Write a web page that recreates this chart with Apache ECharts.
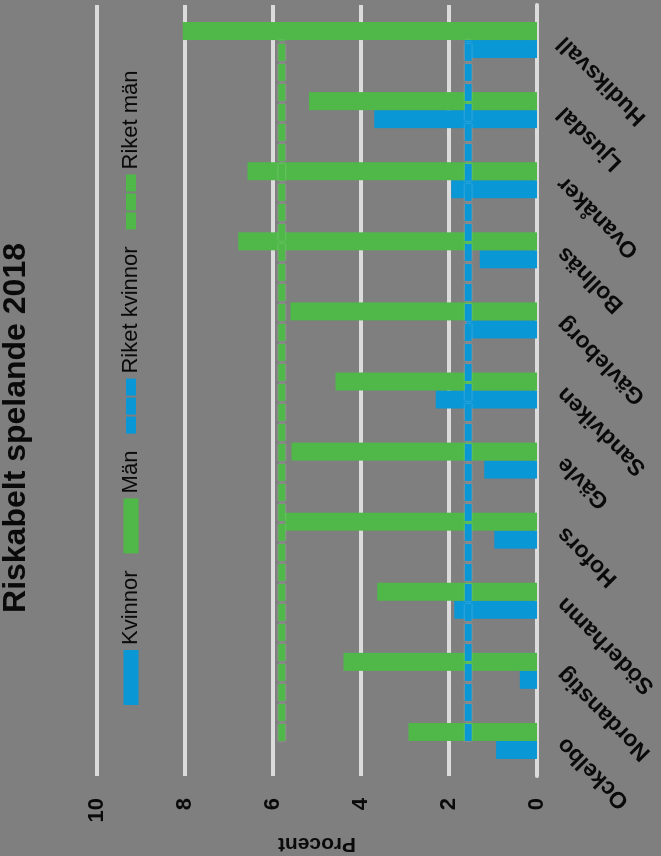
<!DOCTYPE html>
<html>
<head>
<meta charset="utf-8">
<script src="https://cdn.jsdelivr.net/npm/echarts@6/dist/echarts.min.js"></script>
<style>
  html, body { margin: 0; padding: 0; background: #7f7f7f; width: 661px; height: 856px; overflow: hidden; }
  #chart { position: absolute; left: 0; top: 0; width: 856px; height: 661px;
           transform-origin: 0 0; transform: translate(0px, 856px) rotate(-90deg); }
</style>
</head>
<body>
<div id="chart"></div>
<script>
const categories = ['Ockelbo', 'Nordanstig', 'Söderhamn', 'Hofors', 'Gävle', 'Sandviken', 'Gävleborg', 'Bollnäs', 'Ovanåker', 'Ljusdal', 'Hudiksvall'];
const kvinnor = [0.93, 0.39, 1.88, 0.97, 1.20, 2.30, 1.60, 1.30, 1.95, 3.70, 1.64];
const man = [2.92, 4.40, 3.63, 5.73, 5.58, 4.58, 5.60, 6.79, 6.58, 5.18, 8.05];
const riketKvinnor = [1.56, 1.56, 1.56, 1.56, 1.56, 1.56, 1.56, 1.56, 1.56, 1.56, 1.56];
const riketMan = [5.80, 5.80, 5.80, 5.80, 5.80, 5.80, 5.80, 5.80, 5.80, 5.80, 5.80];
const valueTicks = { min: 0, max: 10, interval: 2 };

const BLUE = '#0a97d6';
const GREEN = '#4fb848';
const FONT = 'Liberation Sans, Arial, sans-serif';
const DASH_ICON = 'path://M0,0h17v10h-17z M19,0h17v10h-17z M38,0h17v10h-17z';

const chart = echarts.init(document.getElementById('chart'), null, { renderer: 'canvas' });
chart.setOption({
  backgroundColor: '#7f7f7f',
  animation: false,
  textStyle: { fontFamily: FONT },
  title: {
    text: 'Riskabelt spelande 2018',
    left: 'center',
    top: -5,
    textStyle: { fontSize: 32, fontWeight: 'bold', color: '#0a0a0a', fontFamily: FONT }
  },
  legend: {
    left: 146,
    top: 115,
    itemWidth: 55,
    itemHeight: 15,
    itemGap: 17,
    textStyle: { fontSize: 22, color: '#0a0a0a', fontFamily: FONT },
    data: [
      { name: 'Kvinnor', icon: 'rect' },
      { name: 'Män', icon: 'rect' },
      { name: 'Riket kvinnor', icon: DASH_ICON, itemStyle: { color: BLUE, borderWidth: 0 } },
      { name: 'Riket män', icon: DASH_ICON, itemStyle: { color: GREEN, borderWidth: 0 } }
    ]
  },
  grid: { left: 80, right: 5, top: 97, bottom: 124, containLabel: false, outerBoundsMode: 'none' },
  xAxis: {
    type: 'category',
    data: categories,
    axisTick: { show: false },
    axisLine: { lineStyle: { color: '#dcdcdc', width: 4 } },
    axisLabel: { rotate: 45, margin: 24, fontSize: 23, fontWeight: 'bold', color: '#0a0a0a', fontFamily: FONT }
  },
  yAxis: {
    type: 'value',
    min: valueTicks.min,
    max: valueTicks.max,
    interval: valueTicks.interval,
    name: 'Procent',
    nameLocation: 'middle',
    nameRotate: 90,
    nameGap: 57,
    nameTextStyle: { fontSize: 21, fontWeight: 'bold', color: '#0a0a0a', fontFamily: FONT },
    axisLine: { show: false },
    axisTick: { show: false },
    axisLabel: { margin: 22, fontSize: 22, fontWeight: 'bold', color: '#0a0a0a', fontFamily: FONT },
    splitLine: { lineStyle: { color: '#dcdcdc', width: 4 } }
  },
  series: [
    { name: 'Kvinnor', type: 'bar', data: kvinnor, barWidth: 18, barGap: '0%', itemStyle: { color: BLUE } },
    { name: 'Män', type: 'bar', data: man, barWidth: 18, barGap: '0%', itemStyle: { color: GREEN } },
    { name: 'Riket kvinnor', type: 'line', data: riketKvinnor, symbol: 'none', itemStyle: { color: BLUE },
      lineStyle: { color: BLUE, width: 7, type: [17, 3], cap: 'butt', shadowColor: 'rgba(255,255,255,0.4)', shadowBlur: 2 } },
    { name: 'Riket män', type: 'line', data: riketMan, symbol: 'none', itemStyle: { color: GREEN },
      lineStyle: { color: GREEN, width: 7, type: [17, 3], cap: 'butt', shadowColor: 'rgba(255,255,255,0.4)', shadowBlur: 2 } }
  ]
});
</script>
</body>
</html>
